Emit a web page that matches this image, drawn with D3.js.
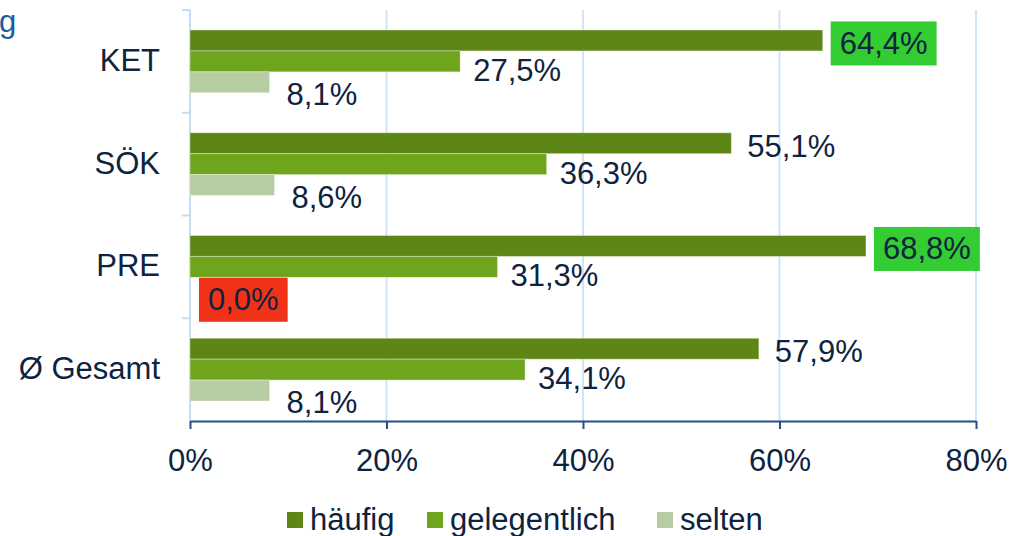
<!DOCTYPE html>
<html>
<head>
<meta charset="utf-8">
<script src="https://cdn.jsdelivr.net/npm/d3@7"></script>
<style>
  html, body { margin: 0; padding: 0; background: #fff; }
  svg { display: block; font-family: "Liberation Sans", Arial, sans-serif; }
  text { fill: #0d2340; }
</style>
</head>
<body>
<svg id="chart" width="1013" height="536"></svg>
<script>
/* ---------- Daten ---------- */
const categories = ['KET', 'SÖK', 'PRE', 'Ø Gesamt'];
const series     = ['häufig', 'gelegentlich', 'selten'];
const haeufig      = [64.4, 55.1, 68.8, 57.9];
const gelegentlich = [27.5, 36.3, 31.3, 34.1];
const selten       = [8.1, 8.6, 0.0, 8.1];
const xTicks       = [0, 20, 40, 60, 80];
const highlightHigh = ['KET', 'PRE'];   // grün hinterlegt (häufig)
const highlightLow  = ['PRE'];          // rot hinterlegt (selten)

/* ---------- Stil ---------- */
const colors   = { 'häufig': '#5e8616', 'gelegentlich': '#6fa51c', 'selten': '#b6cca1' };
const labelOff = { 'häufig': [16, 3], 'gelegentlich': [13, 9], 'selten': [17, 12] };
const FS = 31;

const svg = d3.select('#chart');
const m = { left: 190, right: 976, top: 10, bottom: 421 };

/* ---------- Skalen ---------- */
const x = d3.scaleLinear().domain([0, 80]).range([m.left, m.right]);
const y = d3.scaleBand().domain(categories).range([m.top, m.bottom]);
const ySub = d3.scaleBand().domain(series).range([20, y.bandwidth() - 20]);

const values = { 'häufig': haeufig, 'gelegentlich': gelegentlich, 'selten': selten };
const rows = [];
categories.forEach((c, i) => series.forEach(s => rows.push({ cat: c, ser: s, v: values[s][i] })));

/* ---------- Titelrest ---------- */
svg.append('text').attr('x', -1).attr('y', 32)
  .style('font-size', FS + 'px').style('fill', '#1f5b9e').text('g');

/* ---------- Gitter ---------- */
svg.append('g').selectAll('line')
  .data(xTicks.slice(1)).enter().append('line')
  .attr('x1', d => x(d)).attr('x2', d => x(d))
  .attr('y1', m.top).attr('y2', m.bottom)
  .attr('stroke', '#d2e3f8').attr('stroke-width', 2);

/* ---------- Y-Achse (hellblau) ---------- */
const yAx = svg.append('g');
yAx.append('line')
  .attr('x1', m.left).attr('x2', m.left).attr('y1', m.top).attr('y2', m.bottom)
  .attr('stroke', '#c6dcf5').attr('stroke-width', 2);
yAx.selectAll('line.tk')
  .data(categories).enter().append('line').attr('class', 'tk')
  .attr('x1', m.left - 8).attr('x2', m.left)
  .attr('y1', d => y(d)).attr('y2', d => y(d))
  .attr('stroke', '#c6dcf5').attr('stroke-width', 2);
yAx.selectAll('text')
  .data(categories).enter().append('text')
  .attr('x', 160).attr('y', d => y(d) + y.bandwidth() / 2 - 1)
  .attr('text-anchor', 'end').attr('dominant-baseline', 'central')
  .style('font-size', FS + 'px').text(d => d);

/* ---------- Balken ---------- */
svg.append('g').selectAll('rect')
  .data(rows).enter().append('rect')
  .attr('x', x(0))
  .attr('y', d => y(d.cat) + ySub(d.ser))
  .attr('width', d => x(d.v) - x(0))
  .attr('height', ySub.bandwidth())
  .attr('fill', d => colors[d.ser])
  .attr('stroke', 'rgba(255,255,255,0.35)').attr('stroke-width', 1);

/* ---------- Beschriftungen ---------- */
const lblG = svg.append('g');
rows.forEach(d => {
  const [dx, dy] = labelOff[d.ser];
  const lx = x(d.v) + dx;
  const ly = y(d.cat) + ySub(d.ser) + ySub.bandwidth() / 2 + dy;
  const txt = d.v.toFixed(1).replace('.', ',') + '%';
  let bg = null;
  if (d.ser === 'häufig' && highlightHigh.includes(d.cat)) bg = '#33cc33';
  if (d.ser === 'selten' && highlightLow.includes(d.cat)) bg = '#f03318';
  const t = lblG.append('text')
    .attr('x', bg ? lx + 1 : lx).attr('y', ly)
    .attr('dominant-baseline', 'central')
    .style('font-size', FS + 'px').text(txt);
  if (bg) {
    const bb = t.node().getBBox();
    lblG.insert('rect', () => t.node())
      .attr('x', bb.x - 9).attr('y', ly - 22)
      .attr('width', bb.width + 18).attr('height', 44)
      .attr('fill', bg);
  }
});

/* ---------- X-Achse ---------- */
const xAx = svg.append('g').attr('transform', `translate(0,${m.bottom})`)
  .call(d3.axisBottom(x).tickValues(xTicks).tickFormat(d => d + '%').tickSize(8).tickSizeOuter(0));
xAx.select('.domain').attr('stroke', '#234f8a').attr('stroke-width', 2);
xAx.selectAll('.tick line').attr('stroke', '#234f8a').attr('stroke-width', 2);
xAx.selectAll('.tick text')
  .attr('dy', 0).attr('y', 50)
  .style('font-size', FS + 'px').style('font-family', '"Liberation Sans", Arial, sans-serif')
  .attr('fill', '#0d2340');

/* ---------- Legende ---------- */
const legX = [287, 427, 657];
const leg = svg.append('g').selectAll('g')
  .data(series).enter().append('g')
  .attr('transform', (d, i) => `translate(${legX[i]},512)`);
leg.append('rect').attr('width', 16).attr('height', 16).attr('fill', d => colors[d]);
leg.append('text').attr('x', 23).attr('y', 18)
  .style('font-size', FS + 'px').text(d => d);
</script>
</body>
</html>
